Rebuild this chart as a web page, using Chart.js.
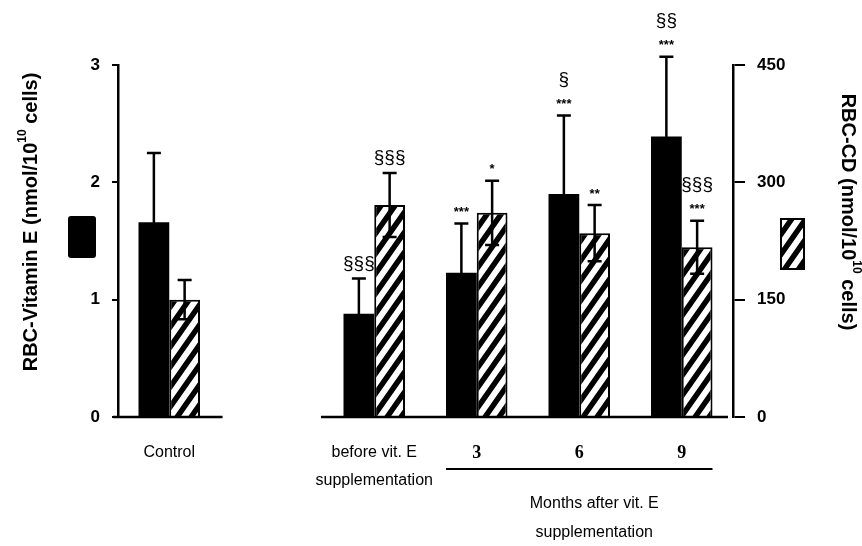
<!DOCTYPE html>
<html>
<head>
<meta charset="utf-8">
<script src="https://cdn.jsdelivr.net/npm/chart.js@4.4.1/dist/chart.umd.min.js"></script>
<style>
  html, body { margin: 0; padding: 0; background: #fff; }
  #wrap { width: 862px; height: 546px; }
</style>
</head>
<body>
<div id="wrap"><canvas id="c" width="862" height="546"></canvas></div>
<script>
const categories = ["Control", "", ["before vit. E", "supplementation"], "3", "6", "9"];
const vitE = [1.66, null, 0.88, 1.23, 1.90, 2.39];
const vitEErr = [0.59, null, 0.30, 0.42, 0.67, 0.68];
const cd = [150, null, 271, 261, 235, 217];
const cdErr = [25, null, 41, 41, 36, 34];
const vitEMarks = [[], [], ["§§§"], ["***"], ["***", "§"], ["***", "§§"]];
const cdMarks = [[], [], ["§§§"], ["*"], ["**"], ["***", "§§§"]];
const leftTitle = ["RBC-Vitamin E (nmol/10", "10", " cells)"];
const rightTitle = ["RBC-CD (nmol/10", "10", " cells)"];
const monthsLabel = ["Months after vit. E", "supplementation"];

const SANS = "'Liberation Sans', Arial, sans-serif";
const SERIF = "'Liberation Serif', 'Times New Roman', serif";

function hatch() {
  const c = document.createElement("canvas");
  c.width = 14; c.height = 20;
  const g = c.getContext("2d");
  g.fillStyle = "#000";
  g.fillRect(0, 0, 14, 20);
  g.strokeStyle = "#fff";
  g.lineWidth = 6;
  g.beginPath();
  for (let k = -2; k <= 2; k++) {
    g.moveTo(k * 14 - 14, 40);
    g.lineTo(k * 14 + 28, -20);
  }
  g.stroke();
  return g.createPattern(c, "repeat");
}
const stripes = hatch();

// title with a superscript part, centred on the current origin
function supText(ctx, parts, size) {
  const big = "bold " + size + "px " + SANS;
  const small = "bold " + Math.round(size * 0.6) + "px " + SANS;
  ctx.font = big; const w1 = ctx.measureText(parts[0]).width;
  ctx.font = small; const w2 = ctx.measureText(parts[1]).width;
  ctx.font = big; const w3 = ctx.measureText(parts[2]).width;
  let x = -(w1 + w2 + w3) / 2;
  ctx.textBaseline = "middle";
  ctx.textAlign = "left";
  ctx.font = big; ctx.fillText(parts[0], x, 0); x += w1;
  ctx.font = small; ctx.fillText(parts[1], x, -size * 0.4); x += w2;
  ctx.font = big; ctx.fillText(parts[2], x, 0);
}

const extras = {
  id: "extras",
  afterDatasetsDraw(chart) {
    const ctx = chart.ctx;
    const area = chart.chartArea;
    const xs = chart.scales.x;
    const step = xs.getPixelForValue(1) - xs.getPixelForValue(0);
    ctx.save();
    ctx.strokeStyle = "#000";
    ctx.fillStyle = "#000";

    // error bars + significance marks
    [[0, vitEErr, "y", vitEMarks], [1, cdErr, "y2", cdMarks]].forEach(([di, errs, axis, marks]) => {
      const meta = chart.getDatasetMeta(di);
      const sc = chart.scales[axis];
      const vals = chart.data.datasets[di].data;
      meta.data.forEach((bar, i) => {
        if (vals[i] == null) return;
        const x = bar.x;
        const top = sc.getPixelForValue(vals[i] + errs[i]);
        const bot = sc.getPixelForValue(vals[i] - errs[i]);
        ctx.lineWidth = 2.5;
        ctx.beginPath();
        ctx.moveTo(x, top); ctx.lineTo(x, bot);
        ctx.moveTo(x - 7, top); ctx.lineTo(x + 7, top);
        ctx.moveTo(x - 7, bot); ctx.lineTo(x + 7, bot);
        ctx.stroke();
        ctx.textAlign = "center";
        ctx.textBaseline = "middle";
        marks[i].forEach((m, k) => {
          const y = top - 15 - k * 21;
          if (m.startsWith("*")) {
            ctx.font = "bold 13px " + SANS;
            ctx.fillText(m, x, y + 4);
          } else {
            ctx.font = "19px " + SANS;
            ctx.fillText(m, x, y);
          }
        });
      });
    });

    // broken baseline
    const y0 = area.bottom;
    ctx.lineWidth = 2.5;
    ctx.beginPath();
    ctx.moveTo(area.left - 5, y0); ctx.lineTo(xs.getPixelForValue(0) + step * 0.52, y0);
    ctx.moveTo(xs.getPixelForValue(2) - step * 0.52, y0); ctx.lineTo(area.right - 5, y0);
    ctx.stroke();

    // bracket under the month labels
    const m0 = chart.getDatasetMeta(0).data[3];
    const m1 = chart.getDatasetMeta(1).data[5];
    ctx.lineWidth = 2;
    ctx.beginPath();
    ctx.moveTo(m0.x - m0.width / 2, 469);
    ctx.lineTo(m1.x + m1.width / 2, 469);
    ctx.stroke();
    ctx.font = "16px " + SANS;
    ctx.textAlign = "center";
    ctx.textBaseline = "middle";
    const mx = xs.getPixelForValue(4) + 15;
    ctx.fillText(monthsLabel[0], mx, 504);
    ctx.fillText(monthsLabel[1], mx, 533);

    // axis titles
    ctx.save();
    ctx.translate(31, 222);
    ctx.rotate(-Math.PI / 2);
    supText(ctx, leftTitle, 20);
    ctx.restore();
    ctx.save();
    ctx.translate(848, 212);
    ctx.rotate(Math.PI / 2);
    supText(ctx, rightTitle, 20);
    ctx.restore();

    // key swatches
    ctx.fillStyle = "#000";
    ctx.beginPath();
    ctx.roundRect(68, 216, 28, 42, 3);
    ctx.fill();
    ctx.fillStyle = stripes;
    ctx.fillRect(781, 219, 23, 50);
    ctx.lineWidth = 2;
    ctx.strokeRect(781, 219, 23, 50);
    ctx.restore();
  }
};

new Chart(document.getElementById("c"), {
  type: "bar",
  data: {
    labels: categories,
    datasets: [
      { label: "RBC-Vitamin E", data: vitE, yAxisID: "y", backgroundColor: "#000", borderWidth: 0 },
      { label: "RBC-CD", data: cd, yAxisID: "y2", backgroundColor: stripes, borderColor: "#000", borderWidth: 2 }
    ]
  },
  options: {
    responsive: false,
    animation: false,
    datasets: { bar: { categoryPercentage: 0.6, barPercentage: 1.0 } },
    layout: { padding: { top: 65, left: 0, right: 0, bottom: 0 } },
    plugins: { legend: { display: false }, tooltip: { enabled: false } },
    scales: {
      x: {
        grid: { display: false },
        border: { display: false },
        ticks: {
          autoSkip: false,
          maxRotation: 0,
          padding: 14,
          color: "#000",
          font: (c) => c.index >= 3
            ? { family: SERIF, size: 18, weight: "bold", lineHeight: 1.6 }
            : { family: SANS, size: 16, lineHeight: 1.75 }
        },
        afterFit: (s) => { s.height = 129; }
      },
      y: {
        position: "left",
        min: 0, max: 3,
        ticks: { stepSize: 1, color: "#000", padding: 12, font: { family: SANS, size: 17, weight: "bold" } },
        grid: { drawOnChartArea: false, drawTicks: true, tickLength: 6, color: "#000", lineWidth: 2 },
        border: { display: true, color: "#000", width: 2.5 },
        afterFit: (s) => { s.width = 118; }
      },
      y2: {
        position: "right",
        min: 0, max: 450,
        ticks: { stepSize: 150, color: "#000", padding: 12, font: { family: SANS, size: 17, weight: "bold" } },
        grid: { drawOnChartArea: false, drawTicks: true, tickLength: 12, color: "#000", lineWidth: 2 },
        border: { display: true, color: "#000", width: 2.5 },
        afterFit: (s) => { s.width = 129; }
      }
    }
  },
  plugins: [extras]
});
</script>
</body>
</html>
